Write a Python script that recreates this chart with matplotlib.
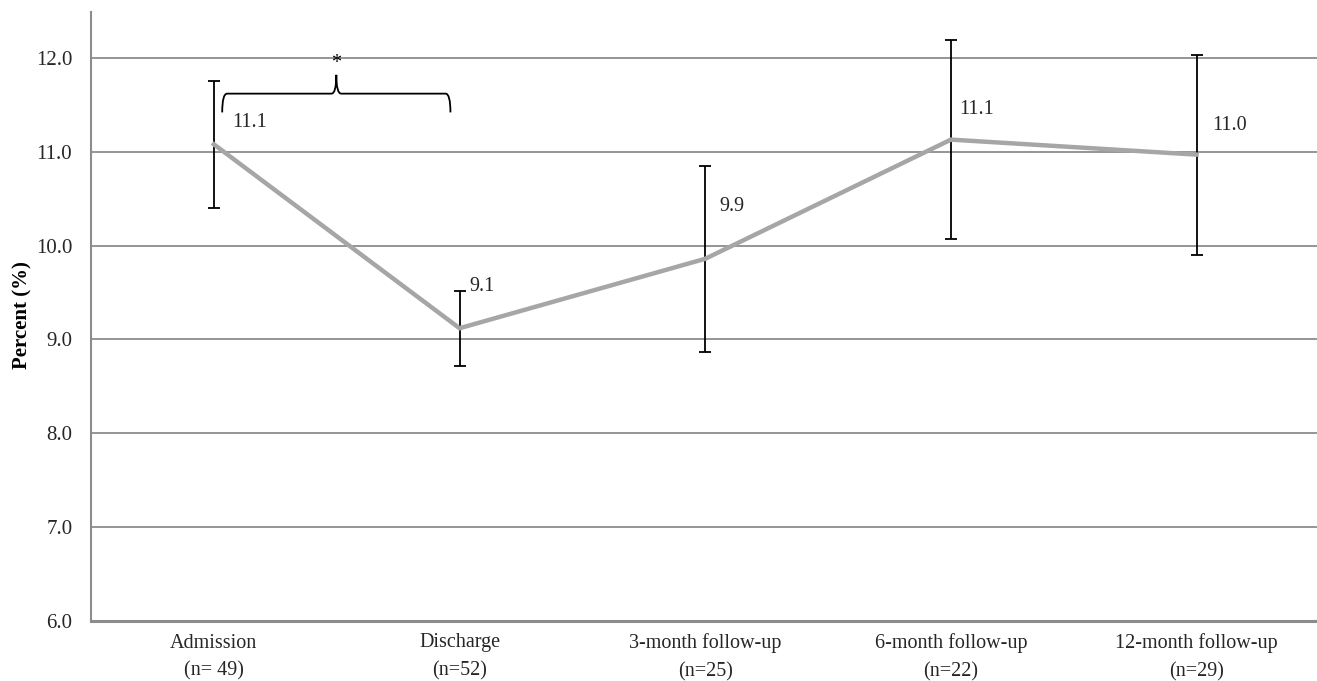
import numpy as np
import matplotlib
matplotlib.use("Agg")
import matplotlib.pyplot as plt
from matplotlib.path import Path
from matplotlib.patches import PathPatch

# data
categories = ["Admission\n(n= 49)", "Discharge\n(n=52)", "3-month follow-up\n(n=25)",
              "6-month follow-up\n(n=22)", "12-month follow-up\n(n=29)"]
means = [11.08, 9.12, 9.86, 11.13, 10.97]
err_lo = [0.68, 0.40, 0.99, 1.06, 1.07]
err_hi = [0.67, 0.40, 0.99, 1.06, 1.06]
value_labels = ["11.1", "9.1", "9.9", "11.1", "11.0"]

# label offsets in points (dx, dy) - layout only
label_offsets = [(13, 16), (7, 30), (10, 38), (6, 22), (11, 21)]

plt.rcParams['font.family'] = ['Liberation Serif', 'DejaVu Serif']

fig = plt.figure(figsize=(13.17, 6.81), dpi=100)
ax = fig.add_axes([91 / 1317, 1 - 621 / 681, 1 - 91 / 1317, (621 - 12) / 681])

x = np.arange(len(categories))

ax.set_ylim(6, 12.49)
ax.set_xlim(-0.5, 4.49)
ax.set_yticks(np.arange(6, 12.01, 1.0))
ax.set_yticklabels([f"{v:.1f}" for v in np.arange(6, 12.01, 1.0)])
ax.grid(axis='y', color='#8c8c8c', linewidth=1.3)
ax.set_axisbelow(True)

ax.errorbar(x, means, yerr=[err_lo, err_hi], fmt='none', ecolor='black',
            elinewidth=1.3, capsize=4, capthick=1.3, zorder=3)
ax.plot(x, means, color='#a6a6a6', linewidth=3.2, solid_joinstyle='miter', zorder=4)

for xi, m, lab, off in zip(x, means, value_labels, label_offsets):
    ax.annotate(lab, (xi, m), xytext=off, textcoords='offset points',
                ha='left', va='center', fontsize=14.5, color='#262626')

# significance brace between admission and discharge
x0, x1 = 0.034, 0.963
xc = (x0 + x1) / 2
y_end, y_mid, y_pk = 11.42, 11.62, 11.82
rx = 0.02
verts = [(x0, y_end), (x0, y_mid), (x0 + rx, y_mid),
         (xc - rx, y_mid),
         (xc, y_mid), (xc, y_pk),
         (xc, y_mid), (xc + rx, y_mid),
         (x1 - rx, y_mid),
         (x1, y_mid), (x1, y_end)]
codes = [Path.MOVETO, Path.CURVE3, Path.CURVE3,
         Path.LINETO,
         Path.CURVE3, Path.CURVE3,
         Path.CURVE3, Path.CURVE3,
         Path.LINETO,
         Path.CURVE3, Path.CURVE3]
ax.add_patch(PathPatch(Path(verts, codes), facecolor='none', edgecolor='black', linewidth=1.3))
ax.text(xc, y_pk + 0.02, "*", ha='center', va='bottom', fontsize=14.5)

ax.set_xticks(x)
ax.set_xticklabels(categories, fontsize=14.5, color='#262626', linespacing=1.6)
ax.tick_params(axis='both', length=0)
ax.tick_params(axis='x', pad=9)
ax.tick_params(axis='y', pad=13.5, labelsize=15, labelcolor='#262626')

for s in ['top', 'right']:
    ax.spines[s].set_visible(False)
ax.spines['left'].set_color('#8c8c8c')
ax.spines['left'].set_linewidth(1.5)
ax.spines['bottom'].set_color('#8c8c8c')
ax.spines['bottom'].set_linewidth(2.2)

ax.set_ylabel("Percent (%)", fontsize=15, fontweight='bold')
ax.yaxis.set_label_coords(-0.048, 0.502)

fig.savefig("out.png", dpi=100)
